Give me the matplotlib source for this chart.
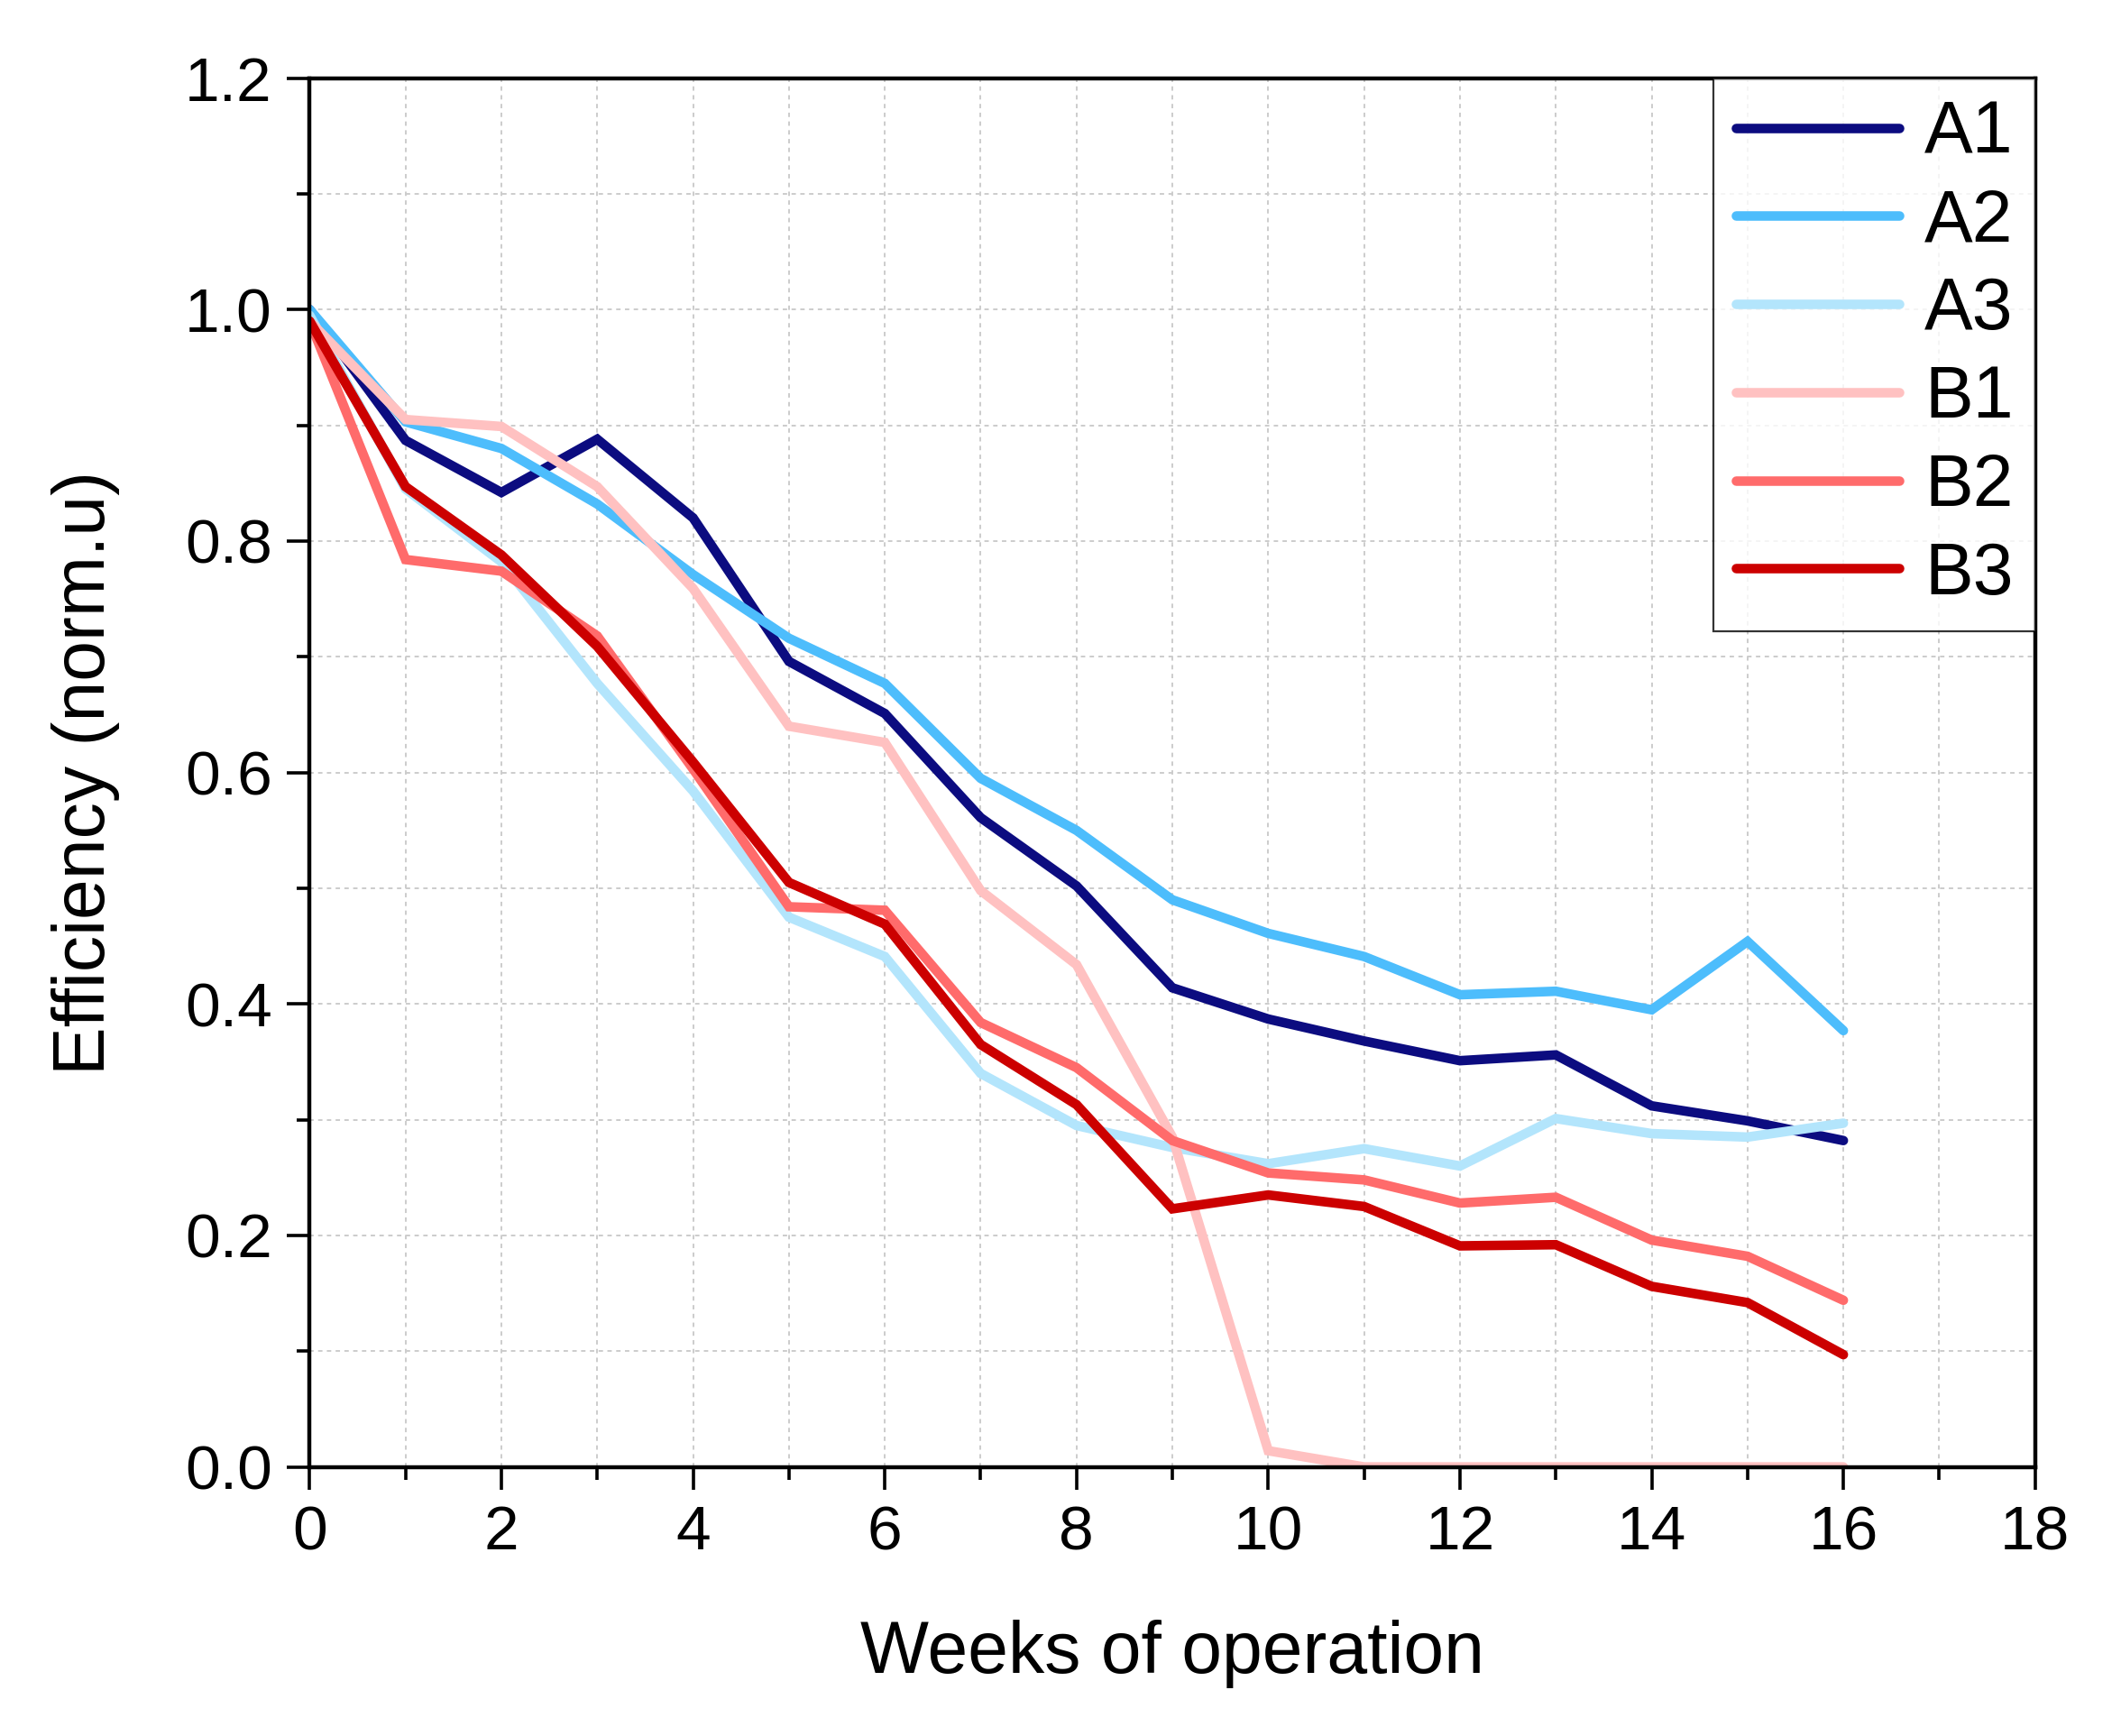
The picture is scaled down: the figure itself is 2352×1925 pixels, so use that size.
import matplotlib
matplotlib.use("Agg")
import matplotlib.pyplot as plt
from matplotlib.ticker import MultipleLocator

plt.rcParams["font.family"] = ["Liberation Sans", "DejaVu Sans"]

weeks = list(range(17))

a1 = [1.0, 0.887, 0.842, 0.888, 0.820, 0.696, 0.651, 0.561, 0.502, 0.414,
      0.387, 0.368, 0.351, 0.356, 0.312, 0.299, 0.282]
a2 = [1.0, 0.903, 0.880, 0.832, 0.771, 0.716, 0.677, 0.595, 0.550, 0.490,
      0.461, 0.441, 0.408, 0.411, 0.395, 0.454, 0.377]
a3 = [0.995, 0.845, 0.782, 0.677, 0.584, 0.475, 0.441, 0.340, 0.295, 0.276,
      0.262, 0.275, 0.260, 0.301, 0.288, 0.285, 0.297]
b1 = [0.99, 0.905, 0.899, 0.847, 0.759, 0.640, 0.626, 0.498, 0.434, 0.285,
      0.014, 0.0, 0.0, 0.0, 0.0, 0.0, 0.0]
b2 = [0.99, 0.784, 0.774, 0.718, 0.603, 0.484, 0.481, 0.384, 0.345, 0.282,
      0.254, 0.248, 0.228, 0.233, 0.196, 0.182, 0.144]
b3 = [0.99, 0.847, 0.788, 0.709, 0.609, 0.505, 0.469, 0.365, 0.313, 0.223,
      0.235, 0.225, 0.191, 0.192, 0.156, 0.142, 0.097]

names = ["A1", "A2", "A3", "B1", "B2", "B3"]
colors = ["#0c0c80", "#4dbdfc", "#b3e5fc", "#ffc1c1", "#ff6b6b", "#cc0000"]

fig = plt.figure(figsize=(11.76, 9.625), dpi=200)
ax = fig.add_axes([0.146, 0.155, 0.8135, 0.8])

for series, name, color in zip([a1, a2, a3, b1, b2, b3], names, colors):
    ax.plot(weeks, series, color=color, lw=3.8, label=name,
            solid_capstyle="round", solid_joinstyle="miter")

ax.set_xlim(0, 18)
ax.set_ylim(0, 1.2)
ax.xaxis.set_major_locator(MultipleLocator(2))
ax.xaxis.set_minor_locator(MultipleLocator(1))
ax.yaxis.set_major_locator(MultipleLocator(0.2))
ax.yaxis.set_minor_locator(MultipleLocator(0.1))
ax.yaxis.set_major_formatter(plt.FuncFormatter(lambda v, p: f"{v:.1f}"))

ax.grid(True, which="both", color="#cccccc", ls=(0, (2.5, 2.5)), lw=0.7)
ax.set_axisbelow(True)

ax.tick_params(which="major", direction="out", length=9, width=1.3,
               labelsize=25, pad=6)
ax.tick_params(which="minor", direction="out", length=5, width=1.3)
for s in ax.spines.values():
    s.set_linewidth(1.6)

ax.set_xlabel("Weeks of operation", fontsize=29, labelpad=23)
ax.set_ylabel("Efficiency (norm.u)", fontsize=29, labelpad=26)

leg = ax.legend(loc="upper right", fontsize=29, frameon=True, fancybox=False,
                edgecolor="black", borderaxespad=0, handlelength=2.25,
                labelspacing=0.27, borderpad=0.3, handletextpad=0.35)
leg.get_frame().set_linewidth(0.8)

fig.savefig("out.png", dpi=200)
